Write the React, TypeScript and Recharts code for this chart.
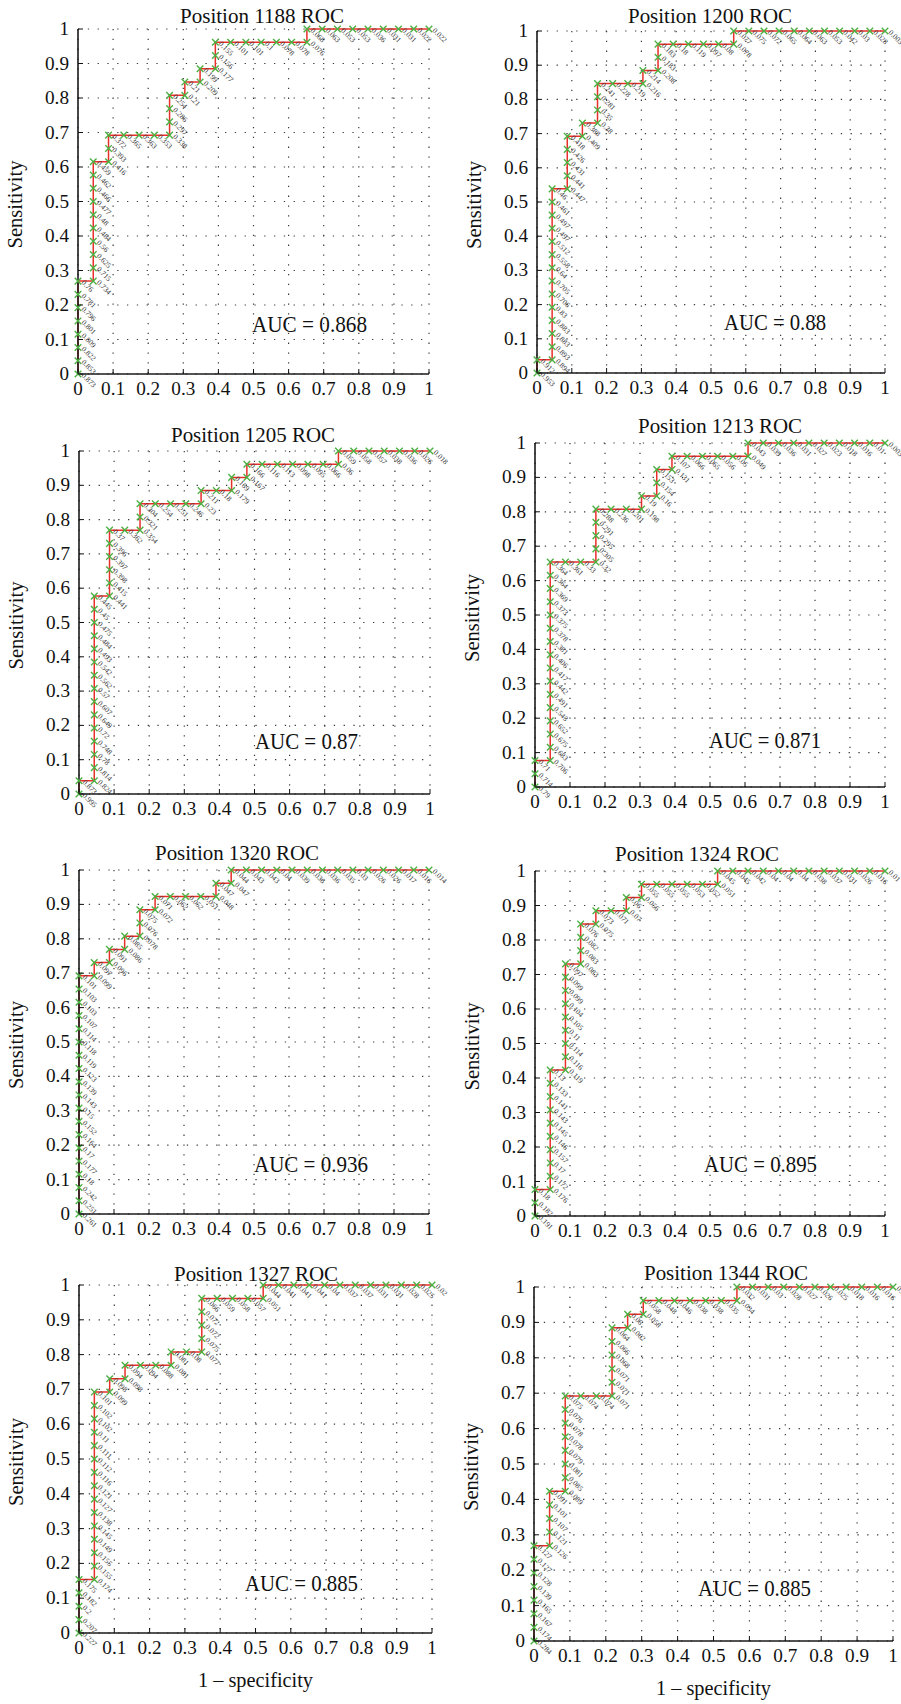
import React from "react";
import { ComposedChart, Line, XAxis, YAxis, CartesianGrid } from "recharts";

// 23 negative and 26 positive cases in every panel
const NEG = 23;
const POS = 26;
const FONT = '"Liberation Serif", "Times New Roman", serif';

const tickValues = [0, 0.1, 0.2, 0.3, 0.4, 0.5, 0.6, 0.7, 0.8, 0.9, 1];
const tickLabels = ["0", "0.1", "0.2", "0.3", "0.4", "0.5", "0.6", "0.7", "0.8", "0.9", "1"];

const titles = [
  "Position 1188 ROC",
  "Position 1200 ROC",
  "Position 1205 ROC",
  "Position 1213 ROC",
  "Position 1320 ROC",
  "Position 1324 ROC",
  "Position 1327 ROC",
  "Position 1344 ROC",
];
const aucLabels = [
  "AUC = 0.868",
  "AUC = 0.88",
  "AUC = 0.87",
  "AUC = 0.871",
  "AUC = 0.936",
  "AUC = 0.895",
  "AUC = 0.885",
  "AUC = 0.885",
];
const yTitle = "Sensitivity";
const xTitle = "1 – specificity";

// false-positive counts, true-positive counts and thresholds, point by point
const fp1188 = [0, 0, 0, 0, 0, 0, 0, 0, 1, 1, 1, 1, 1, 1, 1, 1, 1, 1, 2, 2, 2, 3, 4, 5, 6, 6, 6, 6, 7, 7, 8, 8, 9, 9, 9, 10, 11, 12, 13, 14, 15, 15, 16, 17, 18, 19, 20, 21, 22, 23];
const tp1188 = [0, 1, 2, 3, 4, 5, 6, 7, 7, 8, 9, 10, 11, 12, 13, 14, 15, 16, 16, 17, 18, 18, 18, 18, 18, 19, 20, 21, 21, 22, 22, 23, 23, 24, 25, 25, 25, 25, 25, 25, 25, 26, 26, 26, 26, 26, 26, 26, 26, 26];
const thr1188 = [0.873, 0.853, 0.822, 0.809, 0.801, 0.796, 0.781, 0.76, 0.734, 0.715, 0.625, 0.56, 0.484, 0.48, 0.477, 0.466, 0.462, 0.459, 0.416, 0.393, 0.372, 0.365, 0.363, 0.353, 0.338, 0.297, 0.286, 0.254, 0.21, 0.21, 0.209, 0.199, 0.177, 0.156, 0.155, 0.101, 0.101, 0.1, 0.078, 0.078, 0.076, 0.068, 0.063, 0.053, 0.053, 0.036, 0.031, 0.031, 0.022, 0.022];

const fp1200 = [0, 0, 1, 1, 1, 1, 1, 1, 1, 1, 1, 1, 1, 1, 1, 1, 2, 2, 2, 2, 2, 3, 3, 4, 4, 4, 4, 5, 6, 7, 7, 8, 8, 8, 9, 10, 11, 12, 13, 13, 14, 15, 16, 17, 18, 19, 20, 21, 22, 23];
const tp1200 = [0, 1, 1, 2, 3, 4, 5, 6, 7, 8, 9, 10, 11, 12, 13, 14, 14, 15, 16, 17, 18, 18, 19, 19, 20, 21, 22, 22, 22, 22, 23, 23, 24, 25, 25, 25, 25, 25, 25, 26, 26, 26, 26, 26, 26, 26, 26, 26, 26, 26];
const thr1200 = [0.953, 0.912, 0.894, 0.893, 0.883, 0.883, 0.83, 0.706, 0.705, 0.64, 0.558, 0.512, 0.497, 0.497, 0.461, 0.46, 0.447, 0.441, 0.431, 0.426, 0.418, 0.409, 0.388, 0.38, 0.35, 0.281, 0.241, 0.228, 0.219, 0.216, 0.214, 0.208, 0.183, 0.183, 0.18, 0.119, 0.097, 0.08, 0.078, 0.077, 0.075, 0.072, 0.065, 0.064, 0.063, 0.053, 0.042, 0.03, 0.028, 0.003];

const fp1205 = [0, 0, 1, 1, 1, 1, 1, 1, 1, 1, 1, 1, 1, 1, 1, 1, 1, 2, 2, 2, 2, 2, 2, 3, 4, 4, 4, 5, 6, 7, 8, 8, 9, 10, 10, 11, 11, 12, 13, 14, 15, 16, 17, 17, 18, 19, 20, 21, 22, 23];
const tp1205 = [0, 1, 1, 2, 3, 4, 5, 6, 7, 8, 9, 10, 11, 12, 13, 14, 15, 15, 16, 17, 18, 19, 20, 20, 20, 21, 22, 22, 22, 22, 22, 23, 23, 23, 24, 24, 25, 25, 25, 25, 25, 25, 25, 26, 26, 26, 26, 26, 26, 26];
const thr1205 = [0.995, 0.873, 0.824, 0.814, 0.78, 0.748, 0.72, 0.649, 0.607, 0.57, 0.562, 0.542, 0.493, 0.484, 0.475, 0.45, 0.445, 0.441, 0.415, 0.398, 0.397, 0.396, 0.37, 0.362, 0.354, 0.321, 0.304, 0.254, 0.251, 0.246, 0.23, 0.211, 0.18, 0.179, 0.169, 0.167, 0.166, 0.116, 0.113, 0.098, 0.095, 0.066, 0.06, 0.059, 0.058, 0.057, 0.038, 0.036, 0.026, 0.018];

const fp1213 = [0, 0, 0, 1, 1, 1, 1, 1, 1, 1, 1, 1, 1, 1, 1, 1, 1, 1, 1, 2, 3, 4, 4, 4, 4, 4, 5, 6, 7, 7, 8, 8, 8, 9, 9, 10, 11, 12, 13, 14, 14, 15, 16, 17, 18, 19, 20, 21, 22, 23];
const tp1213 = [0, 1, 2, 2, 3, 4, 5, 6, 7, 8, 9, 10, 11, 12, 13, 14, 15, 16, 17, 17, 17, 17, 18, 19, 20, 21, 21, 21, 21, 22, 22, 23, 24, 24, 25, 25, 25, 25, 25, 25, 26, 26, 26, 26, 26, 26, 26, 26, 26, 26];
const thr1213 = [0.79, 0.714, 0.71, 0.706, 0.683, 0.675, 0.652, 0.543, 0.491, 0.442, 0.417, 0.406, 0.381, 0.378, 0.375, 0.373, 0.369, 0.364, 0.364, 0.361, 0.33, 0.32, 0.305, 0.295, 0.291, 0.288, 0.236, 0.201, 0.198, 0.19, 0.16, 0.154, 0.153, 0.131, 0.107, 0.066, 0.065, 0.056, 0.05, 0.049, 0.043, 0.039, 0.036, 0.031, 0.027, 0.023, 0.018, 0.016, 0.01, 0.003];

const fp1320 = [0, 0, 0, 0, 0, 0, 0, 0, 0, 0, 0, 0, 0, 0, 0, 0, 0, 0, 0, 1, 1, 2, 2, 3, 3, 4, 4, 4, 5, 5, 6, 7, 8, 9, 9, 10, 10, 11, 12, 13, 14, 15, 16, 17, 18, 19, 20, 21, 22, 23];
const tp1320 = [0, 1, 2, 3, 4, 5, 6, 7, 8, 9, 10, 11, 12, 13, 14, 15, 16, 17, 18, 18, 19, 19, 20, 20, 21, 21, 22, 23, 23, 24, 24, 24, 24, 24, 25, 25, 26, 26, 26, 26, 26, 26, 26, 26, 26, 26, 26, 26, 26, 26];
const thr1320 = [0.261, 0.251, 0.242, 0.18, 0.177, 0.17, 0.164, 0.152, 0.15, 0.143, 0.139, 0.123, 0.119, 0.118, 0.114, 0.107, 0.103, 0.103, 0.101, 0.099, 0.097, 0.096, 0.091, 0.086, 0.085, 0.078, 0.076, 0.075, 0.072, 0.071, 0.062, 0.052, 0.051, 0.048, 0.047, 0.047, 0.044, 0.043, 0.043, 0.04, 0.039, 0.036, 0.036, 0.035, 0.03, 0.026, 0.026, 0.017, 0.016, 0.014];

const fp1324 = [0, 0, 0, 1, 1, 1, 1, 1, 1, 1, 1, 1, 1, 2, 2, 2, 2, 2, 2, 2, 2, 2, 3, 3, 3, 3, 4, 4, 5, 6, 6, 7, 7, 8, 9, 10, 11, 12, 12, 13, 14, 15, 16, 17, 18, 19, 20, 21, 22, 23];
const tp1324 = [0, 1, 2, 2, 3, 4, 5, 6, 7, 8, 9, 10, 11, 11, 12, 13, 14, 15, 16, 17, 18, 19, 19, 20, 21, 22, 22, 23, 23, 23, 24, 24, 25, 25, 25, 25, 25, 25, 26, 26, 26, 26, 26, 26, 26, 26, 26, 26, 26, 26];
const thr1324 = [0.191, 0.182, 0.18, 0.176, 0.172, 0.17, 0.157, 0.146, 0.145, 0.143, 0.141, 0.133, 0.13, 0.119, 0.116, 0.114, 0.11, 0.105, 0.104, 0.099, 0.099, 0.097, 0.083, 0.083, 0.082, 0.076, 0.075, 0.073, 0.071, 0.07, 0.06, 0.056, 0.055, 0.055, 0.055, 0.053, 0.052, 0.051, 0.045, 0.045, 0.042, 0.04, 0.04, 0.04, 0.038, 0.037, 0.031, 0.026, 0.016, 0.01];

const fp1327 = [0, 0, 0, 0, 0, 1, 1, 1, 1, 1, 1, 1, 1, 1, 1, 1, 1, 1, 1, 1, 2, 2, 3, 3, 4, 5, 6, 6, 7, 8, 8, 8, 8, 8, 9, 10, 11, 12, 12, 13, 14, 15, 16, 17, 18, 19, 20, 21, 22, 23];
const tp1327 = [0, 1, 2, 3, 4, 4, 5, 6, 7, 8, 9, 10, 11, 12, 13, 14, 15, 16, 17, 18, 18, 19, 19, 20, 20, 20, 20, 21, 21, 21, 22, 23, 24, 25, 25, 25, 25, 25, 26, 26, 26, 26, 26, 26, 26, 26, 26, 26, 26, 26];
const thr1327 = [0.227, 0.207, 0.2, 0.182, 0.175, 0.174, 0.155, 0.155, 0.149, 0.145, 0.138, 0.127, 0.121, 0.116, 0.112, 0.111, 0.11, 0.102, 0.102, 0.101, 0.099, 0.098, 0.098, 0.094, 0.094, 0.088, 0.081, 0.081, 0.08, 0.077, 0.075, 0.072, 0.072, 0.066, 0.059, 0.058, 0.057, 0.051, 0.044, 0.041, 0.041, 0.041, 0.04, 0.037, 0.037, 0.031, 0.031, 0.028, 0.025, 0.02];

const fp1344 = [0, 0, 0, 0, 0, 0, 0, 0, 1, 1, 1, 1, 1, 2, 2, 2, 2, 2, 2, 2, 2, 3, 4, 5, 5, 5, 5, 5, 5, 6, 6, 7, 7, 8, 9, 10, 11, 12, 13, 13, 14, 15, 16, 17, 18, 19, 20, 21, 22, 23];
const tp1344 = [0, 1, 2, 3, 4, 5, 6, 7, 7, 8, 9, 10, 11, 11, 12, 13, 14, 15, 16, 17, 18, 18, 18, 18, 19, 20, 21, 22, 23, 23, 24, 24, 25, 25, 25, 25, 25, 25, 25, 26, 26, 26, 26, 26, 26, 26, 26, 26, 26, 26];
const thr1344 = [0.284, 0.174, 0.167, 0.165, 0.139, 0.128, 0.127, 0.127, 0.126, 0.121, 0.107, 0.101, 0.091, 0.089, 0.085, 0.081, 0.079, 0.078, 0.078, 0.076, 0.075, 0.074, 0.074, 0.071, 0.071, 0.071, 0.068, 0.066, 0.064, 0.062, 0.06, 0.058, 0.058, 0.048, 0.046, 0.038, 0.038, 0.035, 0.034, 0.032, 0.031, 0.03, 0.028, 0.027, 0.026, 0.025, 0.018, 0.016, 0.016, 0.01];

const curves = [
  [fp1188, tp1188, thr1188],
  [fp1200, tp1200, thr1200],
  [fp1205, tp1205, thr1205],
  [fp1213, tp1213, thr1213],
  [fp1320, tp1320, thr1320],
  [fp1324, tp1324, thr1324],
  [fp1327, tp1327, thr1327],
  [fp1344, tp1344, thr1344],
];

// plot box edges in page pixels, title and AUC anchors (aw = AUC text width)
const layout = [
  { L: 78, T: 29, R: 429, B: 374, tx: 262, ty: 23, ax: 252, ay: 332, aw: 115, xt: false },
  { L: 537, T: 31, R: 885, B: 373, tx: 710, ty: 23, ax: 724, ay: 330, aw: 102, xt: false },
  { L: 79, T: 451, R: 430, B: 794, tx: 253, ty: 442, ax: 255, ay: 749, aw: 103, xt: false },
  { L: 535, T: 443, R: 885, B: 787, tx: 720, ty: 433, ax: 709, ay: 748, aw: 112, xt: false },
  { L: 79, T: 870, R: 429, B: 1214, tx: 237, ty: 860, ax: 254, ay: 1172, aw: 114, xt: false },
  { L: 535, T: 871, R: 885, B: 1216, tx: 697, ty: 861, ax: 704, ay: 1172, aw: 113, xt: false },
  { L: 79, T: 1285, R: 432, B: 1633, tx: 256, ty: 1281, ax: 245, ay: 1591, aw: 113, xt: true },
  { L: 534, T: 1287, R: 893, B: 1641, tx: 726, ty: 1280, ax: 698, ay: 1596, aw: 113, xt: true },
];

const ML = 70;
const MT = 14;
const MR = 42;
const MB = 40;

const label = (v: number) => tickLabels[tickValues.indexOf(v)];
const labelWidth = (s: string) => (s.length > 1 ? 24 : 9.5);

const BottomTick = (p: any) => {
  const s = label(p.payload.value);
  return (
    <g>
      <line x1={p.x} x2={p.x} y1={p.y} y2={p.y - 5} stroke="#111" />
      <text x={p.x} y={p.y + 21} textAnchor="middle" fontFamily={FONT} fontSize={18.5} fill="#111"
        textLength={labelWidth(s)} lengthAdjust="spacingAndGlyphs">
        {s}
      </text>
    </g>
  );
};
const TopTick = (p: any) => <line x1={p.x} x2={p.x} y1={p.y} y2={p.y + 5} stroke="#111" />;
const LeftTick = (p: any) => {
  const s = label(p.payload.value);
  return (
    <g>
      <line x1={p.x} x2={p.x + 5} y1={p.y} y2={p.y} stroke="#111" />
      <text x={p.x - 9} y={p.y + 6} textAnchor="end" fontFamily={FONT} fontSize={18.5} fill="#111"
        textLength={labelWidth(s)} lengthAdjust="spacingAndGlyphs">
        {s}
      </text>
    </g>
  );
};
const RightTick = (p: any) => <line x1={p.x} x2={p.x - 5} y1={p.y} y2={p.y} stroke="#111" />;

const renderPoint = (p: any) => {
  const { cx, cy, index, payload } = p;
  const s = 3.3;
  const lx = cx + 3;
  const ly = cy + 2;
  return (
    <g key={`pt-${index}`}>
      <path
        d={`M${cx - s},${cy - s}L${cx + s},${cy + s}M${cx - s},${cy + s}L${cx + s},${cy - s}`}
        stroke="#4cb043"
        strokeWidth={1.4}
      />
      <text x={lx} y={ly} transform={`rotate(45 ${lx} ${ly})`} fontSize={7.5} fontFamily={FONT} fill="#333">
        {payload.thr}
      </text>
    </g>
  );
};

const axisLine = { stroke: "#1a1a1a", strokeWidth: 1.6 };

function RocPanel({ i }: { i: number }) {
  const g = layout[i];
  const [fp, tp, thr] = curves[i];
  const rows = fp.map((f, k) => ({ x: f / NEG, y: tp[k] / POS, thr: thr[k] }));
  const w = g.R - g.L + ML + MR;
  const h = g.B - g.T + MT + MB;
  return (
    <div style={{ position: "absolute", left: g.L - ML, top: g.T - MT }}>
      <ComposedChart width={w} height={h} data={rows} margin={{ top: MT, right: MR, bottom: 0, left: 0 }}>
        <CartesianGrid xAxisId="b" yAxisId="l" stroke="#3a3a3a" strokeWidth={1.2} strokeDasharray="1.3 8.5" />
        <XAxis xAxisId="b" dataKey="x" type="number" domain={[0, 1]} ticks={tickValues} interval={0}
          height={MB} tickSize={0} tickMargin={0} tickLine={false} axisLine={axisLine} tick={BottomTick} />
        <XAxis xAxisId="t" orientation="top" dataKey="x" type="number" domain={[0, 1]} ticks={tickValues} interval={0}
          height={0} tickSize={0} tickMargin={0} tickLine={false} axisLine={axisLine} tick={TopTick} />
        <YAxis yAxisId="l" type="number" domain={[0, 1]} ticks={tickValues} interval={0}
          width={ML} tickSize={0} tickMargin={0} tickLine={false} axisLine={axisLine} tick={LeftTick} />
        <YAxis yAxisId="r" orientation="right" type="number" domain={[0, 1]} ticks={tickValues} interval={0}
          width={0} tickSize={0} tickMargin={0} tickLine={false} axisLine={axisLine} tick={RightTick} />
        <Line xAxisId="b" yAxisId="l" type="linear" dataKey="y" stroke="#e8302a" strokeWidth={1.5}
          dot={renderPoint} activeDot={false} isAnimationActive={false} />
      </ComposedChart>
    </div>
  );
}

export default function App() {
  return (
    <div style={{ position: "absolute", left: 0, top: 0, width: 901, height: 1704, background: "#fff" }}>
      {layout.map((_, i) => (
        <RocPanel key={i} i={i} />
      ))}
      <svg width={901} height={1704} style={{ position: "absolute", left: 0, top: 0, pointerEvents: "none" }}>
        {layout.map((g, i) => {
          const yc = (g.T + g.B) / 2 + 3;
          const yx = g.L - 56;
          return (
            <g key={i} fontFamily={FONT} fill="#111">
              <text x={g.tx} y={g.ty} textAnchor="middle" fontSize={21} textLength={164} lengthAdjust="spacingAndGlyphs">
                {titles[i]}
              </text>
              <text x={g.ax} y={g.ay} fontSize={23} textLength={g.aw} lengthAdjust="spacingAndGlyphs">
                {aucLabels[i]}
              </text>
              <text x={yx} y={yc} textAnchor="middle" fontSize={20.5} textLength={88} lengthAdjust="spacingAndGlyphs"
                transform={`rotate(-90 ${yx} ${yc})`}>
                {yTitle}
              </text>
              {g.xt && (
                <text x={(g.L + g.R) / 2} y={g.B + 54} textAnchor="middle" fontSize={20.5} textLength={115}
                  lengthAdjust="spacingAndGlyphs">
                  {xTitle}
                </text>
              )}
            </g>
          );
        })}
      </svg>
    </div>
  );
}
